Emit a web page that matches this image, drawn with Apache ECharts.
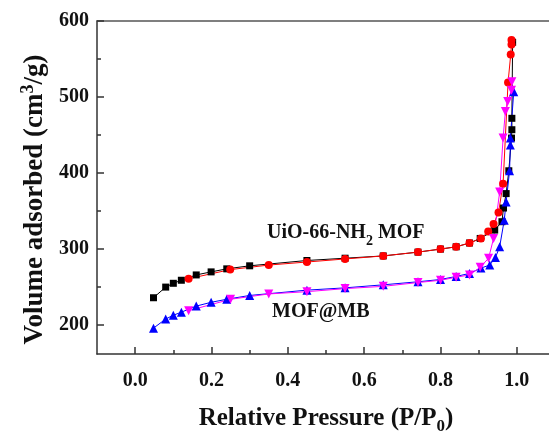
<!DOCTYPE html>
<html>
<head>
<meta charset="utf-8">
<script src="https://cdn.jsdelivr.net/npm/echarts@6/dist/echarts.min.js"></script>
<style>
html,body{margin:0;padding:0;background:#fff;}
#chart{width:549px;height:432px;}
</style>
</head>
<body>
<div id="chart"></div>
<script>
// ---- data ----
const uioAdsX = [0.048,0.080,0.100,0.121,0.160,0.199,0.240,0.300,0.450,0.550,0.650,0.741,0.800,0.841,0.876,0.904,0.942,0.961,0.965,0.972,0.979,0.986,0.987,0.987,0.989];
const uioAdsY = [236,250,255,259,266,270,274,278,285,288,291,296,300,303,308,314,325,336,354,373,403,446,457,472,572];
const uioDesX = [0.986,0.986,0.984,0.977,0.964,0.952,0.939,0.925,0.906,0.876,0.841,0.800,0.741,0.650,0.550,0.450,0.350,0.249,0.140];
const uioDesY = [575,569,556,519,386,348,333,323,314,308,303,300,296,291,287,283,279,273,261];
const mbAdsX = [0.048,0.080,0.100,0.121,0.160,0.199,0.240,0.300,0.450,0.550,0.650,0.741,0.800,0.841,0.876,0.906,0.929,0.944,0.955,0.967,0.972,0.981,0.983,0.983,0.992];
const mbAdsY = [196,208,213,217,225,230,234,239,246,249,253,257,260,264,268,275,279,289,303,338,362,403,437,446,507];
const mbDesX = [0.987,0.986,0.976,0.970,0.964,0.955,0.939,0.926,0.904,0.876,0.841,0.800,0.741,0.650,0.550,0.450,0.350,0.250,0.140];
const mbDesY = [520,509,494,481,446,375,314,288,276,266,263,259,256,251,248,244,241,234,219];

const xMajorTicks = [0.0,0.2,0.4,0.6,0.8,1.0];
const xMinorTicks = [0.1,0.3,0.5,0.7,0.9];
const yMajorTicks = [200,300,400,500,600];
const yMinorTicks = [250,350,450,550];

const seriesNames = ['UiO-66-NH2 MOF adsorption','UiO-66-NH2 MOF desorption','MOF@MB adsorption','MOF@MB desorption'];
const labelUiO = '{n|UiO-66-NH}{sub|2}{n| MOF}';
const labelMB = 'MOF@MB';

const pairs = (xs, ys) => xs.map((x, i) => [x, ys[i]]);
const FONT = '"Liberation Serif", "Times New Roman", serif';
const AX = '#333333';
const TXT = '#111';
const XMIN = -0.1, XMAX = 1.1, YMIN = 162, YMAX = 600;

const chart = echarts.init(document.getElementById('chart'), null, {renderer: 'canvas'});

function mkSeries(name, data, color, symbol, size, rotate) {
  return {
    name, type: 'line', data, xAxisIndex: 0, yAxisIndex: 0,
    symbol, symbolSize: size, symbolRotate: rotate || 0,
    lineStyle: {color, width: 1},
    itemStyle: {color},
    showSymbol: true, animation: false, z: 3
  };
}
function tickX(values, len) {
  return {
    type: 'value', min: XMIN, max: XMAX, position: 'bottom',
    axisLine: {show: false, onZero: false},
    axisTick: {show: true, inside: true, length: len, customValues: values, lineStyle: {color: AX, width: 1.5}},
    axisLabel: {show: false}, splitLine: {show: false}
  };
}
function tickY(values, len) {
  return {
    type: 'value', min: YMIN, max: YMAX, position: 'left',
    axisLine: {show: false, onZero: false},
    axisTick: {show: true, inside: true, length: len, customValues: values, lineStyle: {color: AX, width: 1.5}},
    axisLabel: {show: false}, splitLine: {show: false}
  };
}

const option = {
  animation: false,
  backgroundColor: '#fff',
  grid: {left: 97, top: 21, right: -6, bottom: 78, containLabel: false, outerBoundsMode: 'none'},
  xAxis: [
    {
      type: 'value', min: XMIN, max: XMAX, position: 'bottom',
      axisLine: {show: true, onZero: false, lineStyle: {color: AX, width: 1.5}},
      axisTick: {show: true, inside: true, length: 7, customValues: xMajorTicks, lineStyle: {color: AX, width: 1.5}},
      axisLabel: {customValues: xMajorTicks, margin: 17, fontFamily: FONT, fontWeight: 'bold', fontSize: 20, color: TXT,
        formatter: v => v.toFixed(1)},
      splitLine: {show: false},
      name: '{n|Relative Pressure (P/P}{sub|0}{n|)}',
      nameLocation: 'middle', nameGap: 52,
      nameTextStyle: {fontFamily: FONT, fontWeight: 'bold', fontSize: 25, color: TXT,
        rich: {
          n: {fontFamily: FONT, fontWeight: 'bold', fontSize: 25, color: TXT, verticalAlign: 'top', lineHeight: 26},
          sub: {fontFamily: FONT, fontWeight: 'bold', fontSize: 17, color: TXT, verticalAlign: 'bottom', lineHeight: 29}
        }}
    },
    tickX(xMajorTicks, 7),
    tickX(xMinorTicks, 4),
    {
      type: 'value', min: XMIN, max: XMAX, position: 'top',
      axisLine: {show: true, onZero: false, lineStyle: {color: '#555', width: 1.5}},
      axisTick: {show: false}, axisLabel: {show: false}, splitLine: {show: false}
    }
  ],
  yAxis: [
    {
      type: 'value', min: YMIN, max: YMAX, position: 'left',
      axisLine: {show: true, onZero: false, lineStyle: {color: AX, width: 1.5}},
      axisTick: {show: true, inside: true, length: 7, customValues: yMajorTicks, lineStyle: {color: AX, width: 1.5}},
      axisLabel: {customValues: yMajorTicks, margin: 8, fontFamily: FONT, fontWeight: 'bold', fontSize: 20, color: TXT},
      splitLine: {show: false},
      name: '{n|Volume adsorbed (cm}{sup|3}{n|/g)}',
      nameLocation: 'middle', nameGap: 48, nameRotate: 90,
      nameTextStyle: {fontFamily: FONT, fontWeight: 'bold', fontSize: 27, color: TXT, padding: [0, 24, 0, 0],
        rich: {
          n: {fontFamily: FONT, fontWeight: 'bold', fontSize: 27, color: TXT, verticalAlign: 'bottom', lineHeight: 29},
          sup: {fontFamily: FONT, fontWeight: 'bold', fontSize: 18, color: TXT, verticalAlign: 'top', lineHeight: 23}
        }}
    },
    tickY(yMajorTicks, 7),
    tickY(yMinorTicks, 4)
  ],
  series: [
    mkSeries(seriesNames[0], pairs(uioAdsX, uioAdsY), '#000000', 'rect', 7),
    mkSeries(seriesNames[1], pairs(uioDesX, uioDesY), '#ff0000', 'circle', 8),
    mkSeries(seriesNames[2], pairs(mbAdsX, mbAdsY), '#0000ff', 'triangle', 9),
    mkSeries(seriesNames[3], pairs(mbDesX, mbDesY), '#ff00ff', 'triangle', 9, 180)
  ],
  graphic: [
    {type: 'text', left: 267, top: 223, z: 10,
      style: {text: labelUiO, fontFamily: FONT, fontWeight: 'bold', fontSize: 20, fill: TXT,
        rich: {
          n: {fontFamily: FONT, fontWeight: 'bold', fontSize: 20, fill: TXT, verticalAlign: 'top', lineHeight: 21},
          sub: {fontFamily: FONT, fontWeight: 'bold', fontSize: 14, fill: TXT, verticalAlign: 'bottom', lineHeight: 25}
        }}},
    {type: 'text', left: 272, top: 302, z: 10,
      style: {text: labelMB, fontFamily: FONT, fontWeight: 'bold', fontSize: 20, fill: TXT}}
  ]
};
chart.setOption(option);
</script>
</body>
</html>
